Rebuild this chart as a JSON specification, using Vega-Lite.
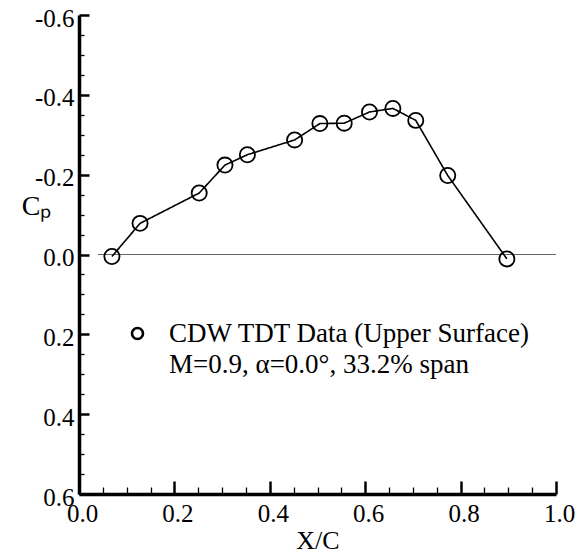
{
  "$schema": "https://vega.github.io/schema/vega-lite/v6.json",
  "width": 477,
  "height": 479,
  "autosize": {"type": "none"},
  "padding": {"left": 79, "top": 15, "right": 21, "bottom": 62},
  "background": "white",
  "config": {
    "view": {"stroke": null},
    "font": "Liberation Serif",
    "axis": {
      "labelFont": "Liberation Serif",
      "titleFont": "Liberation Serif",
      "labelColor": "black",
      "titleColor": "black",
      "domainColor": "black",
      "tickColor": "black",
      "domainWidth": 3.5,
      "grid": false,
      "ticks": true,
      "labelOverlap": false,
      "labelBound": false,
      "labelFlush": false,
      "titleFontWeight": "normal"
    },
    "legend": {
      "labelFont": "Liberation Serif",
      "labelFontSize": 27,
      "labelColor": "black",
      "labelLimit": 0,
      "padding": 0
    }
  },
  "data": {
    "values": [
      {"xc": 0.069, "cp": 0.005, "series": "CDW TDT Data (Upper Surface)", "condition": "M=0.9, α=0.0°, 33.2% span"},
      {"xc": 0.128, "cp": -0.078, "series": "CDW TDT Data (Upper Surface)", "condition": "M=0.9, α=0.0°, 33.2% span"},
      {"xc": 0.252, "cp": -0.154, "series": "CDW TDT Data (Upper Surface)", "condition": "M=0.9, α=0.0°, 33.2% span"},
      {"xc": 0.306, "cp": -0.224, "series": "CDW TDT Data (Upper Surface)", "condition": "M=0.9, α=0.0°, 33.2% span"},
      {"xc": 0.353, "cp": -0.25, "series": "CDW TDT Data (Upper Surface)", "condition": "M=0.9, α=0.0°, 33.2% span"},
      {"xc": 0.452, "cp": -0.287, "series": "CDW TDT Data (Upper Surface)", "condition": "M=0.9, α=0.0°, 33.2% span"},
      {"xc": 0.505, "cp": -0.328, "series": "CDW TDT Data (Upper Surface)", "condition": "M=0.9, α=0.0°, 33.2% span"},
      {"xc": 0.556, "cp": -0.329, "series": "CDW TDT Data (Upper Surface)", "condition": "M=0.9, α=0.0°, 33.2% span"},
      {"xc": 0.609, "cp": -0.357, "series": "CDW TDT Data (Upper Surface)", "condition": "M=0.9, α=0.0°, 33.2% span"},
      {"xc": 0.658, "cp": -0.366, "series": "CDW TDT Data (Upper Surface)", "condition": "M=0.9, α=0.0°, 33.2% span"},
      {"xc": 0.706, "cp": -0.336, "series": "CDW TDT Data (Upper Surface)", "condition": "M=0.9, α=0.0°, 33.2% span"},
      {"xc": 0.773, "cp": -0.198, "series": "CDW TDT Data (Upper Surface)", "condition": "M=0.9, α=0.0°, 33.2% span"},
      {"xc": 0.897, "cp": 0.011, "series": "CDW TDT Data (Upper Surface)", "condition": "M=0.9, α=0.0°, 33.2% span"}
    ]
  },
  "encoding": {
    "x": {
      "field": "xc",
      "type": "quantitative",
      "scale": {"domain": [0, 1], "nice": false, "zero": false},
      "axis": {
        "title": "X/C",
        "titleFontSize": 26,
        "titlePadding": 1,
        "values": [0, 0.05, 0.1, 0.15, 0.2, 0.25, 0.3, 0.35, 0.4, 0.45, 0.5, 0.55, 0.6, 0.65, 0.7, 0.75, 0.8, 0.85, 0.9, 0.95, 1],
        "labelExpr": "abs(datum.value * 5 - round(datum.value * 5)) < 0.001 ? format(datum.value, '.1f') : ''",
        "labelFontSize": 25,
        "labelOffset": 3,
        "labelPadding": 20,
        "tickSize": -13,
        "tickDash": {"condition": {"test": "abs(datum.value * 5 - round(datum.value * 5)) < 0.001", "value": [13, 0]}, "value": [7, 30]},
        "tickWidth": {"condition": {"test": "abs(datum.value * 5 - round(datum.value * 5)) < 0.001", "value": 2.5}, "value": 1.3}
      }
    },
    "y": {
      "field": "cp",
      "type": "quantitative",
      "scale": {"domain": [-0.6, 0.6], "reverse": true, "nice": false, "zero": false},
      "axis": {
        "title": "Cₚ",
        "titleAngle": 0,
        "titleFontSize": 28,
        "titleX": -43,
        "titleY": 191,
        "titleAlign": "center",
        "titleBaseline": "middle",
        "values": [-0.6, -0.55, -0.5, -0.45, -0.4, -0.35, -0.3, -0.25, -0.2, -0.15, -0.1, -0.05, 0, 0.05, 0.1, 0.15, 0.2, 0.25, 0.3, 0.35, 0.4, 0.45, 0.5, 0.55, 0.6],
        "labelExpr": "abs(datum.value * 5 - round(datum.value * 5)) < 0.001 ? (datum.value < 0 ? '-' : '') + format(abs(datum.value), '.1f') : ''",
        "labelFontSize": 25,
        "labelPadding": 15,
        "labelOffset": 3,
        "tickSize": -10,
        "tickDash": {"condition": {"test": "abs(datum.value * 5 - round(datum.value * 5)) < 0.001", "value": [10, 0]}, "value": [5, 30]},
        "tickWidth": {"condition": {"test": "abs(datum.value * 5 - round(datum.value * 5)) < 0.001", "value": 2.5}, "value": 1.3}
      }
    }
  },
  "layer": [
    {
      "mark": {"type": "rule", "color": "#666666", "strokeWidth": 1.2},
      "encoding": {
        "x": {"datum": 0.04},
        "x2": {"datum": 1.0},
        "y": {"datum": 0}
      }
    },
    {
      "mark": {"type": "line", "color": "black", "strokeWidth": 1.6},
      "encoding": {
        "strokeDash": {
          "field": "condition",
          "type": "nominal",
          "scale": {"range": [[1, 0]]},
          "legend": {
            "orient": "none",
            "legendX": 45,
            "legendY": 336,
            "title": null,
            "symbolType": "circle",
            "symbolSize": 121,
            "symbolStrokeWidth": 2.6,
            "symbolOpacity": 0,
            "labelOffset": 18
          }
        }
      }
    },
    {
      "mark": {"type": "point", "shape": "circle", "filled": false, "color": "black", "strokeWidth": 1.8, "size": 230, "opacity": 1},
      "encoding": {
        "shape": {
          "field": "series",
          "type": "nominal",
          "scale": {"range": ["circle"]},
          "legend": {
            "orient": "none",
            "legendX": 45,
            "legendY": 305,
            "title": null,
            "symbolType": "circle",
            "symbolSize": 121,
            "symbolStrokeWidth": 2.6,
            "symbolStrokeColor": "black",
            "symbolOpacity": 1,
            "labelOffset": 18
          }
        }
      }
    }
  ]
}
